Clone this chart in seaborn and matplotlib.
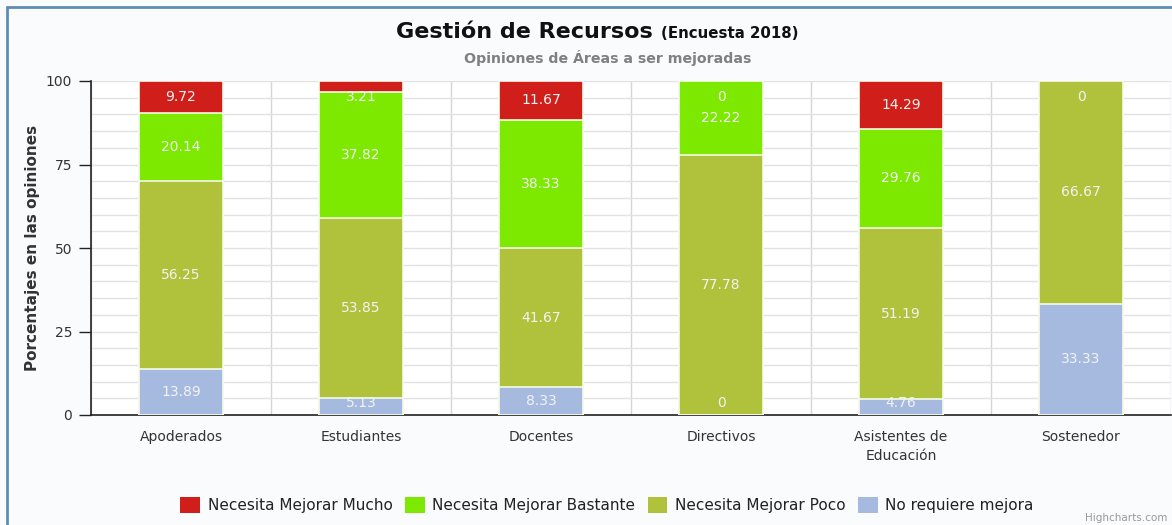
import numpy as np
import pandas as pd
import matplotlib
matplotlib.use("Agg")
import matplotlib.pyplot as plt
from matplotlib.patches import Patch
from matplotlib.lines import Line2D
import seaborn as sns

categories = ["Apoderados", "Estudiantes", "Docentes", "Directivos",
              "Asistentes de\nEducación", "Sostenedor"]
series_names = ["Necesita Mejorar Mucho", "Necesita Mejorar Bastante",
                "Necesita Mejorar Poco", "No requiere mejora"]
mucho = [9.72, 3.21, 11.67, 0, 14.29, 0]
bastante = [20.14, 37.82, 38.33, 22.22, 29.76, 0]
poco = [56.25, 53.85, 41.67, 77.78, 51.19, 66.67]
no_requiere = [13.89, 5.13, 8.33, 0, 4.76, 33.33]
colors = ["#d01f1b", "#7de800", "#b0c23c", "#a6badf"]
y_ticks = [0, 25, 50, 75, 100]

sns.set_theme(style="white")
plt.rcParams['font.family'] = ['DejaVu Sans']

bg = "#fafbfc"
fig = plt.figure(figsize=(11.72, 5.25), dpi=100, facecolor=bg)
W, H = 1172, 525
ax = fig.add_axes([91 / W, 1 - 415 / H, (1171 - 91) / W, (415 - 81) / H])
ax.set_facecolor("white")

# stacked order bottom -> top
stack = [no_requiere, poco, bastante, mucho]
stack_colors = [colors[3], colors[2], colors[1], colors[0]]
cums = np.cumsum(np.array(stack), axis=0)

df = pd.DataFrame({"cat": categories})
# draw from tallest (top) down so lower segments overlay
for i in range(len(stack) - 1, -1, -1):
    df["val"] = cums[i]
    sns.barplot(data=df, x="cat", y="val", color=stack_colors[i], ax=ax,
                width=0.47, edgecolor="#f5fbe8", linewidth=1.2, saturation=1,
                order=categories, zorder=3)

# data labels
for j in range(len(categories)):
    used = []
    for i in range(len(stack) - 1, -1, -1):
        top = cums[i][j]
        v = stack[i][j]
        yc = top - v / 2
        yc = min(max(yc, 3.6), 95.2)
        if any(abs(yc - u) < 3 for u in used):
            continue
        used.append(yc)
        txt = f"{v:g}" if v != 0 else "0"
        ax.text(j, yc, txt, ha="center", va="center", color="#f2f2f2",
                fontsize=10, zorder=5)

ax.set_xlim(-0.5, len(categories) - 0.5)
ax.set_ylim(0, 100)
ax.set_yticks(y_ticks)
ax.set_yticks(np.arange(0, 101, 5), minor=True)
ax.set_yticklabels([str(t) for t in y_ticks], fontsize=10, color="#333333")
ax.grid(axis="y", which="both", color="#e2e2e2", linewidth=1, zorder=0)

boundaries = np.arange(-0.5, len(categories), 1.0)
ax.set_xticks(boundaries)
ax.set_xticklabels([""] * len(boundaries))
ax.set_xticks(np.arange(len(categories)), minor=True)
ax.set_xticklabels(categories, minor=True, fontsize=10, color="#333333",
                   linespacing=1.45)
ax.tick_params(axis="x", which="major", length=8.6, width=1, color="#222222",
               direction="out")
ax.tick_params(axis="x", which="minor", length=0, pad=11)
ax.tick_params(axis="y", which="major", length=8.6, width=1, color="#222222",
               direction="out", left=True, pad=5)
ax.tick_params(axis="y", which="minor", length=0)
ax.grid(axis="x", which="major", color="#d6d6d6", linewidth=1, zorder=0)
ax.set_axisbelow(True)

for s in ["top", "right"]:
    ax.spines[s].set_visible(False)
ax.spines["left"].set_color("#222222")
ax.spines["bottom"].set_color("#222222")
ax.spines["left"].set_linewidth(1.2)
ax.spines["bottom"].set_linewidth(1.2)
ax.set_xlabel("")
ax.set_ylabel("Porcentajes en las opiniones", fontsize=11, fontweight="bold",
              color="#333333", labelpad=4)

# titles
fig.text(653 / W, 1 - 38 / H, "Gestión de Recursos", ha="right",
         va="baseline", fontsize=16, fontweight="bold", color="#111111")
fig.text(661 / W, 1 - 38 / H, "(Encuesta 2018)", ha="left",
         va="baseline", fontsize=10.8, fontweight="bold", color="#111111")
fig.text(608 / W, 1 - 58 / H, "Opiniones de Áreas a ser mejoradas",
         ha="center", va="center", fontsize=10.2, fontweight="bold",
         color="#808080")

handles = [Patch(facecolor=c, edgecolor="none") for c in colors]
fig.legend(handles, series_names, loc="center", ncol=4,
           bbox_to_anchor=(607 / W, 1 - 505 / H), frameon=False,
           fontsize=11, handlelength=1.3, handleheight=1.3,
           columnspacing=0.8, handletextpad=0.5, labelcolor="#222222")

fig.text(1167 / W, 1 - 518 / H, "Highcharts.com", ha="right", va="center",
         fontsize=7.5, color="#999999")

# outer border
fig.add_artist(Line2D([7 / W, 7 / W], [0, 1 - 7 / H], transform=fig.transFigure,
                      color="#5d8db5", linewidth=2))
fig.add_artist(Line2D([7 / W, 1], [1 - 7 / H, 1 - 7 / H],
                      transform=fig.transFigure, color="#5d8db5", linewidth=2))

fig.savefig("out.png", dpi=100, facecolor=bg)
